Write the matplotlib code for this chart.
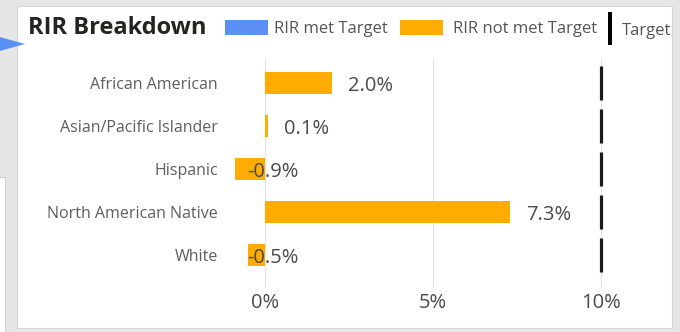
import matplotlib.pyplot as plt
from matplotlib.patches import Rectangle, Polygon

# data
groups = ['African American', 'Asian/Pacific Islander', 'Hispanic',
          'North American Native', 'White']
rir = [2.0, 0.1, -0.9, 7.3, -0.5]
target = [10, 10, 10, 10, 10]
xticks = [0, 5, 10]

orange = '#FFAB00'
blue = '#5B8FF4'

plt.rcParams['font.family'] = ['Open Sans', 'DejaVu Sans']

W, H = 680, 332
fig = plt.figure(figsize=(W / 100, H / 100), dpi=100)
fig.patch.set_facecolor('#E6E6E6')

def fx(x):
    return x / W

def fy(y):
    return 1 - y / H

# white card and the bits of the page around it
fig.patches.append(Rectangle((fx(17), fy(328)), fx(655), 322 / H, transform=fig.transFigure,
                             facecolor='white', edgecolor='#D6D6D6', lw=0.8, zorder=-2))
fig.patches.append(Rectangle((fx(-2), fy(334)), fx(7), 157 / H, transform=fig.transFigure,
                             facecolor='white', edgecolor='#CFCFCF', lw=0.8, zorder=-2))
fig.patches.append(Polygon([(fx(0), fy(37)), (fx(25), fy(44)), (fx(0), fy(51))],
                           closed=True, transform=fig.transFigure,
                           facecolor=blue, edgecolor='none', zorder=-1))

ax = fig.add_axes([0.3304, 0.1346, 0.6275, 0.6865])
ax.set_facecolor('none')
ax.set_zorder(2)

ypos = list(range(len(groups)))
ax.barh(ypos, rir, height=0.51, color=orange, zorder=2)

# target markers
for i, t in enumerate(target):
    ax.vlines(t, i - 0.39, i + 0.39, color='#1A1A1A', lw=2.3, zorder=3)

for i, v in enumerate(rir):
    x = v + 0.47 if v >= 0 else -0.53
    ax.text(x, i, f'{v:.1f}%', ha='left', va='center_baseline', fontsize=14.5,
            color='#4A4A4A', zorder=4)

ax.set_xlim(-1.2, 11.5)
ax.set_ylim(4.75, -0.55)
ax.set_xticks(xticks)
ax.set_xticklabels([f'{t}%' for t in xticks])
ax.set_yticks(ypos)
ax.set_yticklabels(groups)
ax.tick_params(axis='x', length=0, pad=4, labelsize=14.5, labelcolor='#4A4A4A')
ax.tick_params(axis='y', length=0, pad=5, labelsize=11.5, labelcolor='#5E5E5E')
ax.grid(axis='x', color='#E3E3E3', lw=0.9, zorder=0)
for s in ax.spines.values():
    s.set_visible(False)

# title and legend
fig.text(fx(28), fy(28), 'RIR Breakdown', fontsize=17, fontweight='bold',
         color='#252423', ha='left', va='center')
fig.patches.append(Rectangle((fx(225), fy(35)), fx(43), 15 / H, transform=fig.transFigure,
                             facecolor=blue, edgecolor='none'))
fig.text(fx(274), fy(29), 'RIR met Target', fontsize=12, color='#555555',
         ha='left', va='center')
fig.patches.append(Rectangle((fx(400), fy(35)), fx(43), 15 / H, transform=fig.transFigure,
                             facecolor=orange, edgecolor='none'))
fig.text(fx(453), fy(29), 'RIR not met Target', fontsize=12, color='#555555',
         ha='left', va='center')
fig.patches.append(Rectangle((fx(608), fy(45)), fx(4), 33 / H, transform=fig.transFigure,
                             facecolor='black', edgecolor='none'))
fig.text(fx(622), fy(31), 'Target', fontsize=12, color='#555555',
         ha='left', va='center')

fig.savefig('out.png', dpi=100)
